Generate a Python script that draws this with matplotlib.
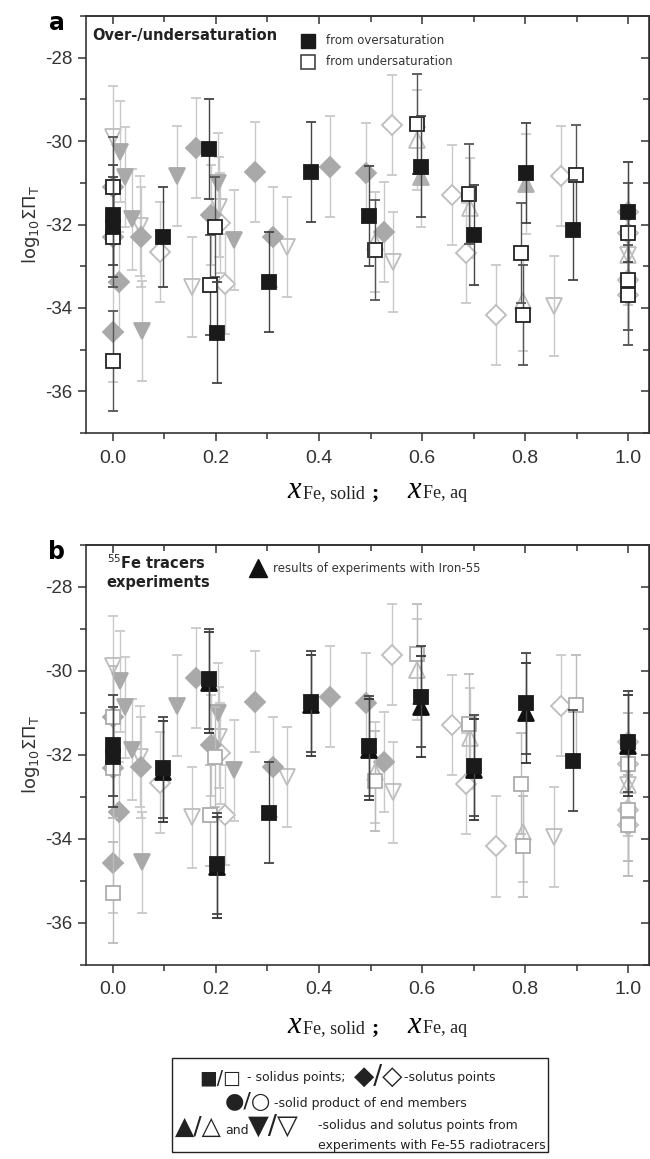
import numpy as np
import matplotlib
matplotlib.use("Agg")
from matplotlib import pyplot as plt
from matplotlib.patches import Rectangle

plt.rcParams['axes.unicode_minus'] = False

ERR = 1.2

# solidus, from oversaturation (filled squares)
sq_fill_x = [0.0, 0.0, 0.097, 0.187, 0.203, 0.303, 0.385, 0.496, 0.598, 0.701, 0.802, 0.893, 1.0]
sq_fill_y = [-31.77, -32.05, -32.31, -30.19, -34.59, -33.38, -30.73, -31.79, -30.61, -32.26, -30.77, -32.14, -31.69]

# solidus, from undersaturation (open squares)
sq_open_x = [0.0, 0.0, 0.0, 0.198, 0.188, 0.509, 0.59, 0.69, 0.792, 0.795, 0.898, 1.0, 1.0, 1.0]
sq_open_y = [-31.09, -32.31, -35.28, -32.05, -33.44, -32.62, -29.6, -31.27, -32.69, -34.18, -30.81, -32.21, -33.32, -33.68]

# solutus (diamonds)
dia_fill_x = [0.0, 0.0, 0.0, 0.012, 0.055, 0.161, 0.19, 0.276, 0.311, 0.421, 0.492, 0.526]
dia_fill_y = [-31.09, -32.31, -34.57, -33.37, -32.3, -30.17, -31.77, -30.73, -32.29, -30.61, -30.77, -32.17]
dia_open_x = [0.092, 0.217, 0.208, 0.542, 0.657, 0.685, 0.743, 0.869, 1.0, 1.0, 1.0, 1.0]
dia_open_y = [-32.66, -33.43, -31.96, -29.61, -31.29, -32.69, -34.18, -30.83, -31.69, -32.21, -33.32, -33.68]

# Fe-55 radiotracer points (triangles)
tri_dn_fill_x = [0.014, 0.024, 0.037, 0.056, 0.124, 0.204, 0.235]
tri_dn_fill_y = [-30.25, -30.87, -31.88, -34.56, -30.83, -31.0, -32.37]
tri_dn_open_x = [0.0, 0.053, 0.154, 0.206, 0.337, 0.543, 0.856, 1.0]
tri_dn_open_y = [-29.89, -32.04, -33.49, -31.58, -32.53, -32.89, -33.96, -32.73]
tri_up_open_x = [0.59, 0.508, 0.692, 0.795, 1.0]
tri_up_open_y = [-29.97, -32.42, -31.61, -33.84, -32.73]
tri_up_fill_x = [0.598, 0.802]
tri_up_fill_y = [-30.87, -31.02]

# results of experiments with Iron-55 (panel b)
fe55_x = [0.097, 0.187, 0.203, 0.385, 0.496, 0.598, 0.701, 0.802, 1.0]
fe55_y = [-32.4, -30.28, -34.68, -30.82, -31.88, -30.85, -32.35, -31.0, -31.78]

W, H = 650, 1159
fig = plt.figure(figsize=(6.5, 11.59), dpi=100)


def series(ax, x, y, marker, face, edge, ecol, ms, z):
    ax.errorbar(x, y, yerr=ERR, fmt=marker, ms=ms, mfc=face, mec=edge, mew=1.3,
                ecolor=ecol, elinewidth=1.0, capsize=3.5, capthick=1.0, zorder=z)


def setup(ax):
    ax.set_xlim(-0.052, 1.04)
    ax.set_ylim(-37, -27)
    ax.set_xticks(np.arange(0, 1.01, 0.2))
    ax.set_xticks(np.arange(0.1, 1.01, 0.2), minor=True)
    ax.set_yticks(np.arange(-36, -27, 2))
    ax.set_yticks(np.arange(-37, -26, 2), minor=True)
    ax.set_xticklabels(['%.1f' % v for v in np.arange(0, 1.01, 0.2)])
    ax.tick_params(which='major', length=6, width=1.1, color='#333333', direction='out',
                   labelcolor='#333333', pad=4)
    ax.tick_params(axis='y', labelsize=13.5)
    ax.tick_params(axis='x', labelsize=14, pad=6)
    ax.tick_params(which='minor', length=4, width=1.1, color='#333333', direction='out')
    for lab in ax.get_xticklabels() + ax.get_yticklabels():
        lab.set_family('Liberation Sans')
    for s in ax.spines.values():
        s.set_linewidth(1.2)
        s.set_color('#333333')
    top = ax.secondary_xaxis('top')
    top.set_xticks(np.arange(0, 1.01, 0.2))
    top.set_xticks(np.arange(0.1, 1.01, 0.2), minor=True)
    top.tick_params(which='major', direction='in', length=6, width=1.1, color='#333333', labeltop=False)
    top.tick_params(which='minor', direction='in', length=4, width=1.1, color='#333333')
    top.spines['top'].set_linewidth(1.2)
    top.spines['top'].set_color('#333333')
    right = ax.secondary_yaxis('right')
    right.set_yticks(np.arange(-36, -27, 2))
    right.set_yticks(np.arange(-37, -26, 2), minor=True)
    right.tick_params(which='major', direction='in', length=6, width=1.1, color='#333333', labelright=False)
    right.tick_params(which='minor', direction='in', length=4, width=1.1, color='#333333')
    ax.set_ylabel(r'$\mathrm{log}_{10}\Sigma\Pi_\mathrm{T}$', fontsize=13, color='#333333', labelpad=2)


def draw_panel(ax, panel_b):
    light = '#c9c9c9'
    series(ax, tri_up_open_x, tri_up_open_y, '^', 'none', '#bdbdbd', light, 11, 2)
    series(ax, tri_dn_open_x, tri_dn_open_y, 'v', 'none', '#bdbdbd', light, 11, 2)
    series(ax, dia_open_x, dia_open_y, 'D', 'white', '#bdbdbd', light, 10, 2)
    series(ax, dia_fill_x, dia_fill_y, 'D', '#a9a9a9', '#a9a9a9', light, 10, 3)
    series(ax, tri_dn_fill_x, tri_dn_fill_y, 'v', '#a9a9a9', '#a9a9a9', light, 11, 3)
    if panel_b:
        series(ax, sq_open_x, sq_open_y, 's', 'white', '#acacac', '#bcbcbc', 10, 4)
        series(ax, fe55_x, fe55_y, '^', '#111111', '#111111', '#333333', 12, 5)
    else:
        series(ax, tri_up_fill_x, tri_up_fill_y, '^', '#b0b0b0', '#b0b0b0', light, 12, 3)
        series(ax, sq_open_x, sq_open_y, 's', 'white', '#222222', '#555555', 10, 5)
    series(ax, sq_fill_x, sq_fill_y, 's', '#1a1a1a', '#1a1a1a', '#444444', 10, 6)
    setup(ax)


def axes_rect(top_px, bottom_px):
    return [86 / W, 1 - bottom_px / H, 563 / W, (bottom_px - top_px) / H]


ax_a = fig.add_axes(axes_rect(16, 433))
draw_panel(ax_a, False)
ax_b = fig.add_axes(axes_rect(545, 964.7))
draw_panel(ax_b, True)

# panel labels
fig.text(57 / W, 1 - 23 / H, 'a', fontsize=17, fontweight='bold', ha='center', va='center')
fig.text(57 / W, 1 - 552 / H, 'b', fontsize=17, fontweight='bold', ha='center', va='center')

# panel a annotation
ax_a.text(0.011, 0.954, 'Over-/undersaturation', transform=ax_a.transAxes, fontsize=10.5,
          fontweight='bold', color='#222222', va='center', ha='left')
ax_a.plot([0.394], [0.940], 's', ms=10, mfc='#1a1a1a', mec='#1a1a1a', transform=ax_a.transAxes, clip_on=False)
ax_a.plot([0.394], [0.890], 's', ms=10, mfc='white', mec='#444444', mew=1.2, transform=ax_a.transAxes, clip_on=False)
ax_a.text(0.427, 0.942, 'from oversaturation', transform=ax_a.transAxes, fontsize=8.5, color='#333333', va='center')
ax_a.text(0.427, 0.891, 'from undersaturation', transform=ax_a.transAxes, fontsize=8.5, color='#333333', va='center')

# panel b annotation
ax_b.text(0.037, 0.957, r'$^{55}$Fe tracers', transform=ax_b.transAxes, fontsize=10.5,
          fontweight='bold', color='#222222', va='center', ha='left')
ax_b.text(0.037, 0.910, 'experiments', transform=ax_b.transAxes, fontsize=10.5,
          fontweight='bold', color='#222222', va='center', ha='left')
ax_b.plot([0.305], [0.945], '^', ms=13, mfc='#111111', mec='#111111', transform=ax_b.transAxes, clip_on=False)
ax_b.text(0.333, 0.943, 'results of experiments with Iron-55', transform=ax_b.transAxes, fontsize=8.5,
          color='#333333', va='center')


# x labels
def xlabel(y_px):
    yb = 1 - y_px / H
    serif = 'Liberation Serif'
    fig.text(287 / W, yb, 'x', fontsize=22, family=serif, style='italic', va='baseline')
    fig.text(303 / W, yb, 'Fe, solid', fontsize=13, family=serif, va='baseline', color='#222222')
    fig.text(372 / W, yb, ';', fontsize=16, family=serif, fontweight='bold', va='baseline')
    fig.text(407 / W, yb, 'x', fontsize=22, family=serif, style='italic', va='baseline')
    fig.text(423 / W, yb, 'Fe, aq', fontsize=13, family=serif, va='baseline', color='#222222')


xlabel(498)
xlabel(1033)

# symbol key at the bottom
fig.add_artist(Rectangle((172 / W, 1 - 1152 / H), 376 / W, 94 / H, transform=fig.transFigure,
                         fill=False, edgecolor='#222222', linewidth=1.0))


def key(x_px, y_px, s, size):
    fig.text(x_px / W, 1 - y_px / H, s, fontsize=size, va='center', ha='left', color='#222222')


key(199, 1078, '\u25a0/\u25a1', 13.5)
key(247, 1078, '- solidus points;', 9)
key(354, 1077, '\u25c6/\u25c7', 19)
key(404, 1078, '-solutus points', 9)
key(225, 1102, '\u25cf/\u25cb', 16)
key(274, 1104, '-solid product of end members', 9)
key(175, 1127, '\u25b2/\u25b3', 18)
key(225, 1130, 'and', 9)
key(248, 1127, '\u25bc/\u25bd', 19.5)
key(318, 1125, '-solidus and solutus points from', 9)
key(318, 1145, 'experiments with Fe-55 radiotracers', 9)

fig.savefig('out.png', dpi=100)
